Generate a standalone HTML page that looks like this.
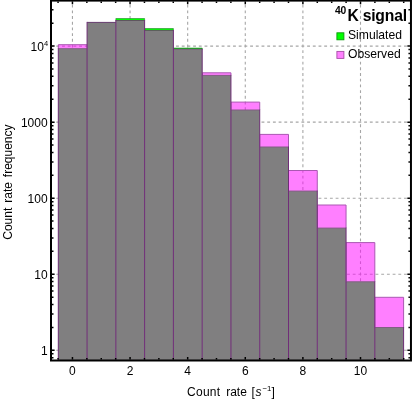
<!DOCTYPE html>
<html><head><meta charset="utf-8"><title>40K signal</title>
<style>html,body{margin:0;padding:0;background:#fff;}body{width:413px;height:399px;overflow:hidden;font-family:"Liberation Sans",sans-serif;}svg{display:block;will-change:transform;}</style>
</head><body>
<svg width="413" height="399" viewBox="0 0 413 399">
<rect width="413" height="399" fill="#fff"/>
<path d="M72.45 0.6 V360.5 M130.06 0.6 V360.5 M187.67 0.6 V360.5 M245.28 0.6 V360.5 M302.89 0.6 V360.5 M360.50 0.6 V360.5" stroke="#a6a6a6" stroke-width="1.1" stroke-dasharray="2.85 2.85" stroke-dashoffset="1.625" fill="none"/>
<path d="M51.0 350.30 H410.95 M51.0 274.25 H410.95 M51.0 198.20 H410.95 M51.0 122.15 H410.95 M51.0 46.10 H410.95" stroke="#a6a6a6" stroke-width="1.1" stroke-dasharray="2.85 2.85" stroke-dashoffset="0.37" fill="none"/>
<rect x="58.30" y="48.70" width="28.77" height="312.10" fill="#00ff00"/>
<rect x="87.07" y="22.40" width="28.78" height="338.40" fill="#00ff00"/>
<rect x="115.85" y="18.50" width="28.78" height="342.30" fill="#00ff00"/>
<rect x="144.62" y="28.50" width="28.77" height="332.30" fill="#00ff00"/>
<rect x="173.40" y="47.90" width="28.78" height="312.90" fill="#00ff00"/>
<rect x="202.18" y="75.40" width="28.77" height="285.40" fill="#00ff00"/>
<rect x="230.95" y="110.00" width="28.77" height="250.80" fill="#00ff00"/>
<rect x="259.72" y="147.00" width="28.78" height="213.80" fill="#00ff00"/>
<rect x="288.50" y="191.10" width="28.77" height="169.70" fill="#00ff00"/>
<rect x="317.27" y="228.10" width="28.78" height="132.70" fill="#00ff00"/>
<rect x="346.05" y="281.80" width="28.77" height="79.00" fill="#00ff00"/>
<rect x="374.82" y="327.50" width="28.77" height="33.30" fill="#00ff00"/>
<path d="M115.85 20.50 V18.50 H144.62 V20.50" stroke="#23872a" stroke-width="0.6" fill="none"/>
<path d="M144.62 30.40 V28.50 H173.40 V30.40" stroke="#23872a" stroke-width="0.6" fill="none"/>
<path d="M173.40 49.40 V48.30 H202.18 V49.40" stroke="#23872a" stroke-width="1.0" fill="none"/>
<rect x="58.30" y="44.70" width="28.77" height="316.10" fill="#ff00ff" fill-opacity="0.5"/>
<rect x="87.07" y="22.40" width="28.78" height="338.40" fill="#ff00ff" fill-opacity="0.5"/>
<rect x="115.85" y="20.50" width="28.78" height="340.30" fill="#ff00ff" fill-opacity="0.5"/>
<rect x="144.62" y="30.40" width="28.77" height="330.40" fill="#ff00ff" fill-opacity="0.5"/>
<rect x="173.40" y="49.40" width="28.78" height="311.40" fill="#ff00ff" fill-opacity="0.5"/>
<rect x="202.18" y="72.80" width="28.77" height="288.00" fill="#ff00ff" fill-opacity="0.5"/>
<rect x="230.95" y="102.10" width="28.77" height="258.70" fill="#ff00ff" fill-opacity="0.5"/>
<rect x="259.72" y="134.40" width="28.78" height="226.40" fill="#ff00ff" fill-opacity="0.5"/>
<rect x="288.50" y="170.50" width="28.77" height="190.30" fill="#ff00ff" fill-opacity="0.5"/>
<rect x="317.27" y="205.00" width="28.78" height="155.80" fill="#ff00ff" fill-opacity="0.5"/>
<rect x="346.05" y="242.60" width="28.77" height="118.20" fill="#ff00ff" fill-opacity="0.5"/>
<rect x="374.82" y="297.30" width="28.77" height="63.50" fill="#ff00ff" fill-opacity="0.5"/>
<path d="M58.30 48.70 H87.07" stroke="#805f82" stroke-width="1" fill="none"/>
<path d="M87.07 22.40 H115.85" stroke="#683c72" stroke-width="1" fill="none"/>
<path d="M115.85 20.50 H144.62" stroke="#5f555f" stroke-width="1" fill="none"/>
<path d="M144.62 30.40 H173.40" stroke="#5f555f" stroke-width="1" fill="none"/>
<path d="M173.40 49.40 H202.18" stroke="#805f82" stroke-width="1" fill="none"/>
<path d="M202.18 75.40 H230.95" stroke="#805f82" stroke-width="1" fill="none"/>
<path d="M230.95 110.00 H259.72" stroke="#805f82" stroke-width="1" fill="none"/>
<path d="M259.72 147.00 H288.50" stroke="#805f82" stroke-width="1" fill="none"/>
<path d="M288.50 191.10 H317.27" stroke="#805f82" stroke-width="1" fill="none"/>
<path d="M317.27 228.10 H346.05" stroke="#805f82" stroke-width="1" fill="none"/>
<path d="M346.05 281.80 H374.82" stroke="#805f82" stroke-width="1" fill="none"/>
<path d="M374.82 327.50 H403.60" stroke="#805f82" stroke-width="1" fill="none"/>
<path d="M58.30 48.70 V44.70 H87.07 V48.70" stroke="#aa58b2" stroke-width="1" fill="none"/>
<path d="M202.18 75.40 V72.80 H230.95 V75.40" stroke="#aa58b2" stroke-width="1" fill="none"/>
<path d="M230.95 110.00 V102.10 H259.72 V110.00" stroke="#aa58b2" stroke-width="1" fill="none"/>
<path d="M259.72 147.00 V134.40 H288.50 V147.00" stroke="#aa58b2" stroke-width="1" fill="none"/>
<path d="M288.50 191.10 V170.50 H317.27 V191.10" stroke="#aa58b2" stroke-width="1" fill="none"/>
<path d="M317.27 228.10 V205.00 H346.05 V228.10" stroke="#aa58b2" stroke-width="1" fill="none"/>
<path d="M346.05 281.80 V242.60 H374.82 V281.80" stroke="#aa58b2" stroke-width="1" fill="none"/>
<path d="M374.82 327.50 V297.30 H403.60 V327.50" stroke="#aa58b2" stroke-width="1" fill="none"/>
<path d="M58.30 360.8 V48.20" stroke="#702d78" stroke-width="1" fill="none"/>
<path d="M87.07 360.8 V21.90" stroke="#702d78" stroke-width="1" fill="none"/>
<path d="M115.85 360.8 V20.00" stroke="#702d78" stroke-width="1" fill="none"/>
<path d="M144.62 360.8 V20.00" stroke="#702d78" stroke-width="1" fill="none"/>
<path d="M173.40 360.8 V29.90" stroke="#702d78" stroke-width="1" fill="none"/>
<path d="M202.18 360.8 V48.90" stroke="#702d78" stroke-width="1" fill="none"/>
<path d="M230.95 360.8 V74.90" stroke="#702d78" stroke-width="1" fill="none"/>
<path d="M259.72 360.8 V109.50" stroke="#702d78" stroke-width="1" fill="none"/>
<path d="M288.50 360.8 V146.50" stroke="#702d78" stroke-width="1" fill="none"/>
<path d="M317.27 360.8 V190.60" stroke="#702d78" stroke-width="1" fill="none"/>
<path d="M346.05 360.8 V227.60" stroke="#702d78" stroke-width="1" fill="none"/>
<path d="M374.82 360.8 V281.30" stroke="#702d78" stroke-width="1" fill="none"/>
<path d="M403.60 360.8 V327.00" stroke="#702d78" stroke-width="1" fill="none"/>
<rect x="51.0" y="0.6" width="359.95" height="359.9" fill="none" stroke="#000" stroke-width="2.0"/>
<path d="M58.05 359.5 v-1.5 M58.05 1.6 v1.5 M72.45 359.5 v-2.6 M72.45 1.6 v2.6 M86.85 359.5 v-1.5 M86.85 1.6 v1.5 M101.25 359.5 v-1.5 M101.25 1.6 v1.5 M115.66 359.5 v-1.5 M115.66 1.6 v1.5 M130.06 359.5 v-2.6 M130.06 1.6 v2.6 M144.46 359.5 v-1.5 M144.46 1.6 v1.5 M158.87 359.5 v-1.5 M158.87 1.6 v1.5 M173.27 359.5 v-1.5 M173.27 1.6 v1.5 M187.67 359.5 v-2.6 M187.67 1.6 v2.6 M202.07 359.5 v-1.5 M202.07 1.6 v1.5 M216.48 359.5 v-1.5 M216.48 1.6 v1.5 M230.88 359.5 v-1.5 M230.88 1.6 v1.5 M245.28 359.5 v-2.6 M245.28 1.6 v2.6 M259.68 359.5 v-1.5 M259.68 1.6 v1.5 M274.08 359.5 v-1.5 M274.08 1.6 v1.5 M288.49 359.5 v-1.5 M288.49 1.6 v1.5 M302.89 359.5 v-2.6 M302.89 1.6 v2.6 M317.29 359.5 v-1.5 M317.29 1.6 v1.5 M331.69 359.5 v-1.5 M331.69 1.6 v1.5 M346.10 359.5 v-1.5 M346.10 1.6 v1.5 M360.50 359.5 v-2.6 M360.50 1.6 v2.6 M374.90 359.5 v-1.5 M374.90 1.6 v1.5 M389.31 359.5 v-1.5 M389.31 1.6 v1.5 M403.71 359.5 v-1.5 M403.71 1.6 v1.5 M52.0 357.67 h1.5 M409.95 357.67 h-1.5 M52.0 353.78 h1.5 M409.95 353.78 h-1.5 M52.0 350.30 h2.6 M409.95 350.30 h-2.6 M52.0 327.41 h1.5 M409.95 327.41 h-1.5 M52.0 314.01 h1.5 M409.95 314.01 h-1.5 M52.0 304.51 h1.5 M409.95 304.51 h-1.5 M52.0 297.14 h1.5 M409.95 297.14 h-1.5 M52.0 291.12 h1.5 M409.95 291.12 h-1.5 M52.0 286.03 h1.5 M409.95 286.03 h-1.5 M52.0 281.62 h1.5 M409.95 281.62 h-1.5 M52.0 277.73 h1.5 M409.95 277.73 h-1.5 M52.0 274.25 h2.6 M409.95 274.25 h-2.6 M52.0 251.36 h1.5 M409.95 251.36 h-1.5 M52.0 237.96 h1.5 M409.95 237.96 h-1.5 M52.0 228.46 h1.5 M409.95 228.46 h-1.5 M52.0 221.09 h1.5 M409.95 221.09 h-1.5 M52.0 215.07 h1.5 M409.95 215.07 h-1.5 M52.0 209.98 h1.5 M409.95 209.98 h-1.5 M52.0 205.57 h1.5 M409.95 205.57 h-1.5 M52.0 201.68 h1.5 M409.95 201.68 h-1.5 M52.0 198.20 h2.6 M409.95 198.20 h-2.6 M52.0 175.31 h1.5 M409.95 175.31 h-1.5 M52.0 161.91 h1.5 M409.95 161.91 h-1.5 M52.0 152.41 h1.5 M409.95 152.41 h-1.5 M52.0 145.04 h1.5 M409.95 145.04 h-1.5 M52.0 139.02 h1.5 M409.95 139.02 h-1.5 M52.0 133.93 h1.5 M409.95 133.93 h-1.5 M52.0 129.52 h1.5 M409.95 129.52 h-1.5 M52.0 125.63 h1.5 M409.95 125.63 h-1.5 M52.0 122.15 h2.6 M409.95 122.15 h-2.6 M52.0 99.26 h1.5 M409.95 99.26 h-1.5 M52.0 85.86 h1.5 M409.95 85.86 h-1.5 M52.0 76.36 h1.5 M409.95 76.36 h-1.5 M52.0 68.99 h1.5 M409.95 68.99 h-1.5 M52.0 62.97 h1.5 M409.95 62.97 h-1.5 M52.0 57.88 h1.5 M409.95 57.88 h-1.5 M52.0 53.47 h1.5 M409.95 53.47 h-1.5 M52.0 49.58 h1.5 M409.95 49.58 h-1.5 M52.0 46.10 h2.6 M409.95 46.10 h-2.6 M52.0 23.21 h1.5 M409.95 23.21 h-1.5 M52.0 9.81 h1.5 M409.95 9.81 h-1.5" stroke="#000" stroke-width="1.5" fill="none"/>
<g font-family="Liberation Sans, sans-serif" font-size="12" fill="#000">
<text x="72.45" y="374.8" text-anchor="middle">0</text>
<text x="130.06" y="374.8" text-anchor="middle">2</text>
<text x="187.67" y="374.8" text-anchor="middle">4</text>
<text x="245.28" y="374.8" text-anchor="middle">6</text>
<text x="302.89" y="374.8" text-anchor="middle">8</text>
<text x="360.50" y="374.8" text-anchor="middle">10</text>
<text x="47.6" y="355.30" text-anchor="end">1</text>
<text x="47.6" y="279.25" text-anchor="end">10</text>
<text x="47.6" y="203.20" text-anchor="end">100</text>
<text x="47.6" y="127.15" text-anchor="end">1000</text>
<text x="30.6" y="50.80">10<tspan font-size="7.5" dx="0.1" dy="-5.2">4</tspan></text>
<text x="187.1" y="396.0"><tspan letter-spacing="0.25">Count</tspan><tspan dx="5.8">rate</tspan><tspan dx="4.7">[</tspan><tspan font-style="italic" dx="0.7">s</tspan><tspan font-size="7.8" dx="0.9" dy="-5.5">−1</tspan><tspan dy="5.5" dx="0">]</tspan></text>
<text transform="translate(11.7 182.1) rotate(-90)" text-anchor="middle" word-spacing="1.6">Count rate frequency</text>
<text x="334.9" y="14.0" font-weight="bold" font-size="10.3" letter-spacing="0">40</text>
<text x="347.4" y="20.8" font-weight="bold" font-size="15.7" letter-spacing="-0.2">K signal</text>
<rect x="336.9" y="32.8" width="7" height="7" fill="#00ff00" stroke="#0a9a0a" stroke-width="0.9"/>
<rect x="336.9" y="51.4" width="7" height="7" fill="#ff80ff" stroke="#a64da6" stroke-width="0.9"/>
<text x="348" y="39.3" font-size="12.15">Simulated</text>
<text x="348" y="58.4" font-size="12.15">Observed</text>
</g>
</svg>
</body></html>
